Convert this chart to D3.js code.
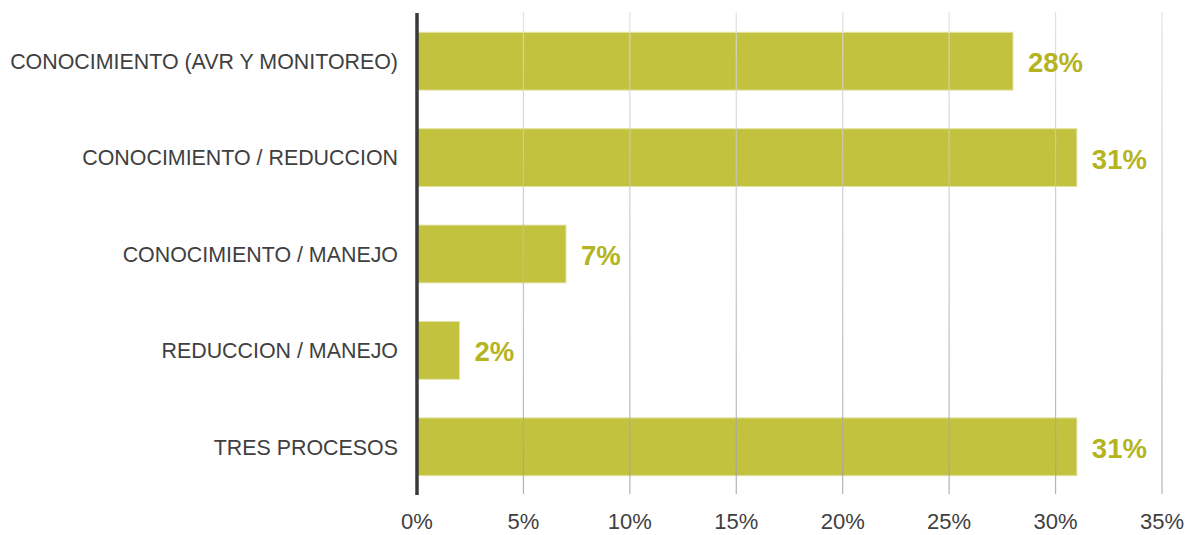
<!DOCTYPE html>
<html>
<head>
<meta charset="utf-8">
<script src="https://cdn.jsdelivr.net/npm/d3@7"></script>
<style>
  body { margin: 0; background: #fff; }
  svg { font-family: "Liberation Sans", Arial, sans-serif; }
</style>
</head>
<body>
<div id="chart"></div>
<script>
const categories = ["CONOCIMIENTO (AVR Y MONITOREO)", "CONOCIMIENTO / REDUCCION", "CONOCIMIENTO / MANEJO", "REDUCCION / MANEJO", "TRES PROCESOS"];
const values = [28, 31, 7, 2, 31];
const ticks = [0, 5, 10, 15, 20, 25, 30, 35];

const w = 1193, h = 535;
const m = {top: 12, right: 31, bottom: 41, left: 417};

const svg = d3.select("#chart").append("svg")
  .attr("width", w)
  .attr("height", h);

const x = d3.scaleLinear().domain([0, 35]).range([m.left, w - m.right]);
const y = d3.scaleBand().domain(categories).range([m.top, h - m.bottom]).paddingInner(0.4).paddingOuter(0.2);

// grid gradient, lighter at top
const grad = svg.append("defs").append("linearGradient")
  .attr("id", "gridGrad")
  .attr("gradientUnits", "userSpaceOnUse")
  .attr("x1", 0).attr("y1", m.top).attr("x2", 0).attr("y2", h - m.bottom);
grad.append("stop").attr("offset", "0%").attr("stop-color", "#dcdcdc");
grad.append("stop").attr("offset", "100%").attr("stop-color", "#a0a0a0");

// bars
svg.selectAll("rect.bar")
  .data(values)
  .enter().append("rect")
  .attr("class", "bar")
  .attr("x", x(0))
  .attr("y", (d, i) => y(categories[i]) + 1)
  .attr("width", d => x(d) - x(0))
  .attr("height", y.bandwidth())
  .attr("fill", "#bdbd2e")
  .attr("fill-opacity", 0.92)
  .attr("stroke", "#e4e4a8")
  .attr("stroke-width", 1);

// grid lines (drawn over the bars, faint)
svg.selectAll("line.grid")
  .data(ticks.slice(1))
  .enter().append("line")
  .attr("class", "grid")
  .attr("x1", d => x(d)).attr("x2", d => x(d))
  .attr("y1", m.top).attr("y2", h - m.bottom)
  .attr("stroke", "url(#gridGrad)")
  .attr("stroke-width", 1.2)
  .attr("opacity", 0.8);

// value labels
svg.selectAll("text.val")
  .data(values)
  .enter().append("text")
  .attr("class", "val")
  .attr("x", d => x(d) + 15)
  .attr("y", (d, i) => y(categories[i]) + y.bandwidth() / 2 + 2)
  .attr("dy", "0.36em")
  .attr("fill", "#b4b41e")
  .style("font-size", "27.5px")
  .style("font-weight", "bold")
  .text(d => d + "%");

// category labels
svg.selectAll("text.cat")
  .data(categories)
  .enter().append("text")
  .attr("class", "cat")
  .attr("x", m.left - 19)
  .attr("y", d => y(d) + y.bandwidth() / 2 + 1)
  .attr("dy", "0.36em")
  .attr("text-anchor", "end")
  .attr("fill", "#404040")
  .style("font-size", "21.4px")
  .text(d => d);

// tick labels
svg.selectAll("text.tick")
  .data(ticks)
  .enter().append("text")
  .attr("class", "tick")
  .attr("x", d => x(d))
  .attr("y", h - 6)
  .attr("text-anchor", "middle")
  .attr("fill", "#404040")
  .style("font-size", "22px")
  .text(d => d + "%");

// axis line
svg.append("line")
  .attr("x1", x(0)).attr("x2", x(0))
  .attr("y1", m.top + 1).attr("y2", h - m.bottom + 1)
  .attr("stroke", "#3a3a3a")
  .attr("stroke-width", 3.5);
</script>
</body>
</html>
